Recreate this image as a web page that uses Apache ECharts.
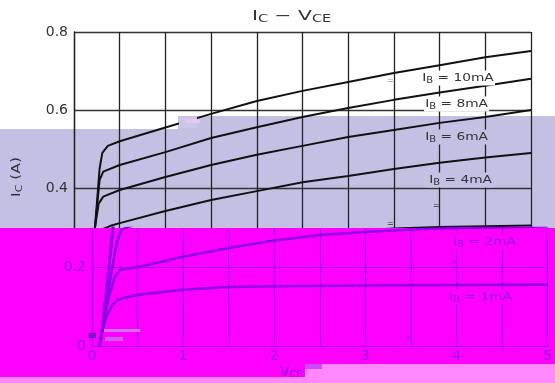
<!DOCTYPE html>
<html>
<head>
<meta charset="utf-8">
<script src="https://cdn.jsdelivr.net/npm/echarts@6/dist/echarts.min.js"></script>
<style>
html, body { margin: 0; padding: 0; background: #fff; }
#main { width: 555px; height: 383px; }
</style>
</head>
<body>
<div id="main"></div>
<script>
// IC (A) against VCE (V), one array per base current
var ib10 = [[0.08,0],[0.11,0.036],[0.23,0.3],[0.28,0.45],[0.31,0.49],[0.37,0.508],[0.5,0.52],[1,0.555],[1.5,0.59],[2,0.623],[2.5,0.649],[3,0.672],[3.5,0.695],[4,0.715],[4.5,0.735],[5,0.751]];
var ib8  = [[0.08,0],[0.11,0.036],[0.23,0.3],[0.28,0.42],[0.32,0.442],[0.5,0.459],[1,0.492],[1.5,0.528],[2,0.556],[2.5,0.582],[3,0.605],[3.5,0.626],[4,0.645],[4.5,0.662],[5,0.68]];
var ib6  = [[0.08,0],[0.11,0.036],[0.23,0.3],[0.27,0.36],[0.32,0.378],[0.5,0.395],[1,0.428],[1.5,0.459],[2,0.485],[2.5,0.508],[3,0.531],[3.5,0.549],[4,0.567],[4.5,0.582],[5,0.6]];
var ib4  = [[0.08,0],[0.11,0.036],[0.2,0.17],[0.27,0.26],[0.32,0.295],[0.4,0.303],[0.5,0.31],[1,0.341],[1.5,0.369],[2,0.392],[2.5,0.415],[3,0.431],[3.5,0.449],[4,0.465],[4.5,0.478],[5,0.49]];
var ib2  = [[0.08,0],[0.11,0.036],[0.18,0.12],[0.25,0.175],[0.31,0.194],[0.5,0.2],[1,0.227],[1.5,0.249],[2,0.268],[2.5,0.282],[3,0.29],[3.5,0.296],[4,0.3],[4.5,0.302],[5,0.304]];
var ib1  = [[0.08,0],[0.11,0.036],[0.16,0.075],[0.22,0.103],[0.28,0.117],[0.34,0.122],[0.5,0.13],[1,0.143],[1.5,0.15],[2,0.152],[3,0.154],[4,0.155],[5,0.156]];

var curves = [ib10, ib8, ib6, ib4, ib2, ib1];
var curveNames = ['10mA', '8mA', '6mA', '4mA', '2mA', '1mA'];
var lowTicks = [0, 0.2];

var myChart = echarts.init(document.getElementById('main'));

var FONT = 'DejaVu Sans';
var lav = '#c4c0e4', mag = '#ff00ff', pink = '#ff88ff';
var pur = '#9200ea', purTxt = '#9418e4', purGrid = '#a010f0';

var series = [];
curves.forEach(function (d, i) {
    // upper (black) copy
    series.push({
        name: 'IB = ' + curveNames[i], type: 'line',
        xAxisIndex: 0, yAxisIndex: 0, data: d,
        symbol: 'none', z: 2, silent: true,
        lineStyle: { color: '#111', width: 2 }
    });
    // lower (purple) copy, shifted band
    series.push({
        name: 'IB = ' + curveNames[i] + ' low', type: 'line',
        xAxisIndex: 1, yAxisIndex: 1, data: d,
        symbol: 'none', z: 7, silent: true,
        lineStyle: { color: pur, width: 2.6 }
    });
});

function ibLabel(name, x, y, bg, color) {
    return {
        type: 'text', x: x, y: y, z: 8, scaleX: 1.25,
        style: {
            text: 'I{s|B} = ' + name,
            fill: color, fontFamily: FONT, fontSize: 11,
            verticalAlign: 'middle', backgroundColor: bg, padding: [1, 1],
            rich: { s: { fontSize: 8, fontFamily: FONT, fill: color, padding: [5, 0, 0, 0] } }
        }
    };
}

function eq(x, y, color) {
    return { type: 'text', x: x, y: y, z: 8, style: { text: '=', fill: color, fontFamily: FONT, fontSize: 8, verticalAlign: 'middle' } };
}

var option = {
    animation: false,
    grid: [
        { left: 74, right: 24, top: 32, bottom: 39 },
        { left: 92, right: 5, top: 228, bottom: 37 }
    ],
    xAxis: [
        {
            gridIndex: 0, type: 'value', min: 0, max: 5, interval: 0.5, z: 1,
            axisLine: { lineStyle: { color: '#222', width: 1.3 } },
            axisTick: { show: false }, axisLabel: { show: false },
            splitLine: { lineStyle: { color: '#222', width: 1.3 } }
        },
        {
            gridIndex: 1, type: 'value', min: 0, max: 5, interval: 0.5, z: 6,
            axisLine: { lineStyle: { color: purGrid, width: 1.2 } },
            axisTick: { show: false },
            axisLabel: {
                color: purTxt, fontFamily: FONT, fontSize: 14, margin: 3,
                formatter: function (v) { return v % 1 === 0 ? String(v) : ''; }
            },
            splitLine: { lineStyle: { color: purGrid, width: 1.2 } }
        }
    ],
    yAxis: [
        {
            gridIndex: 0, type: 'value', min: 0, max: 0.8, interval: 0.2, z: 1,
            axisLine: { show: true, lineStyle: { color: '#222', width: 1.3 } },
            axisTick: { show: false },
            axisLabel: {
                color: '#333', fontFamily: FONT, fontSize: 14, margin: 6,
                formatter: function (v) { return v === 0 ? '0' : v.toFixed(1); }
            },
            splitLine: { lineStyle: { color: '#333', width: 1.3 } }
        },
        {
            gridIndex: 1, type: 'value', min: 0, max: 0.3, z: 6,
            axisLine: { show: true, lineStyle: { color: purGrid, width: 1.2 } },
            axisTick: { show: false, customValues: lowTicks },
            axisLabel: {
                color: purTxt, fontFamily: FONT, fontSize: 14, margin: 6, customValues: lowTicks,
                formatter: function (v) { return v === 0 ? '0' : v.toFixed(1); }
            },
            splitLine: { lineStyle: { color: purGrid, width: 1.2 } }
        }
    ],
    graphic: {
        elements: [
            // colour bands
            { type: 'rect', z: 0, shape: { x: 0, y: 129, width: 555, height: 99 }, style: { fill: lav } },
            { type: 'rect', z: 0, shape: { x: 178, y: 116, width: 377, height: 13 }, style: { fill: lav } },
            { type: 'rect', z: 3, shape: { x: 179, y: 117, width: 18, height: 11 }, style: { fill: '#cdc6e6' } },
            { type: 'rect', z: 3, shape: { x: 186, y: 119, width: 14, height: 4 }, style: { fill: '#e4c8ee' } },
            { type: 'rect', z: 5, shape: { x: 0, y: 228, width: 555, height: 149 }, style: { fill: mag } },
            // glitches near origin
            { type: 'rect', z: 8, shape: { x: 88, y: 333, width: 8, height: 5 }, style: { fill: '#8a10d0' } },
            { type: 'rect', z: 8, shape: { x: 105, y: 337, width: 18, height: 4 }, style: { fill: '#c860ff' } },
            { type: 'rect', z: 8, shape: { x: 104, y: 329, width: 36, height: 3 }, style: { fill: '#d070ff' } },
            // title and axis names
            {
                type: 'text', x: 252, y: 16, z: 8, scaleX: 1.45,
                style: {
                    text: 'I{s|C} − V{s|CE}', fill: '#333', fontFamily: FONT, fontSize: 14,
                    verticalAlign: 'middle',
                    rich: { s: { fontSize: 10, fontFamily: FONT, fill: '#333', padding: [6, 0, 0, 0] } }
                }
            },
            {
                type: 'text', x: 17, y: 177, z: 8, rotation: Math.PI / 2, scaleX: 1.2,
                style: {
                    text: 'I{s|C} (A)', fill: '#333', fontFamily: FONT, fontSize: 13,
                    align: 'center', verticalAlign: 'middle',
                    rich: { s: { fontSize: 9, fontFamily: FONT, fill: '#333', padding: [5, 0, 0, 0] } }
                }
            },
            {
                type: 'text', x: 280, y: 372, z: 8,
                style: {
                    text: 'V{s|CE} (V)', fill: '#8a10e0', fontFamily: FONT, fontSize: 14,
                    verticalAlign: 'middle',
                    rich: { s: { fontSize: 10, fontFamily: FONT, fill: '#8a10e0', padding: [6, 0, 0, 0] } }
                }
            },
            // curve labels
            ibLabel(curveNames[0], 421, 78, '#fff', '#333'),
            ibLabel(curveNames[1], 424, 104, '#fff', '#333'),
            ibLabel(curveNames[2], 424, 137, lav, '#333'),
            ibLabel(curveNames[3], 428, 180, lav, '#333'),
            ibLabel(curveNames[4], 452, 242, mag, purTxt),
            ibLabel(curveNames[5], 448, 297, mag, purTxt),
            eq(387, 81, '#999'), eq(387, 224, '#333'), eq(433, 206, '#333'),
            eq(451, 262, purTxt), eq(406, 338, purTxt),
            // bottom pink strips
            { type: 'rect', z: 9, shape: { x: 305, y: 364, width: 250, height: 13 }, style: { fill: pink } },
            { type: 'rect', z: 9, shape: { x: 305, y: 364, width: 17, height: 5 }, style: { fill: '#d048ff' } },
            { type: 'rect', z: 9, shape: { x: 0, y: 377, width: 555, height: 6 }, style: { fill: pink } }
        ]
    },
    series: series
};

myChart.setOption(option);
</script>
</body>
</html>
